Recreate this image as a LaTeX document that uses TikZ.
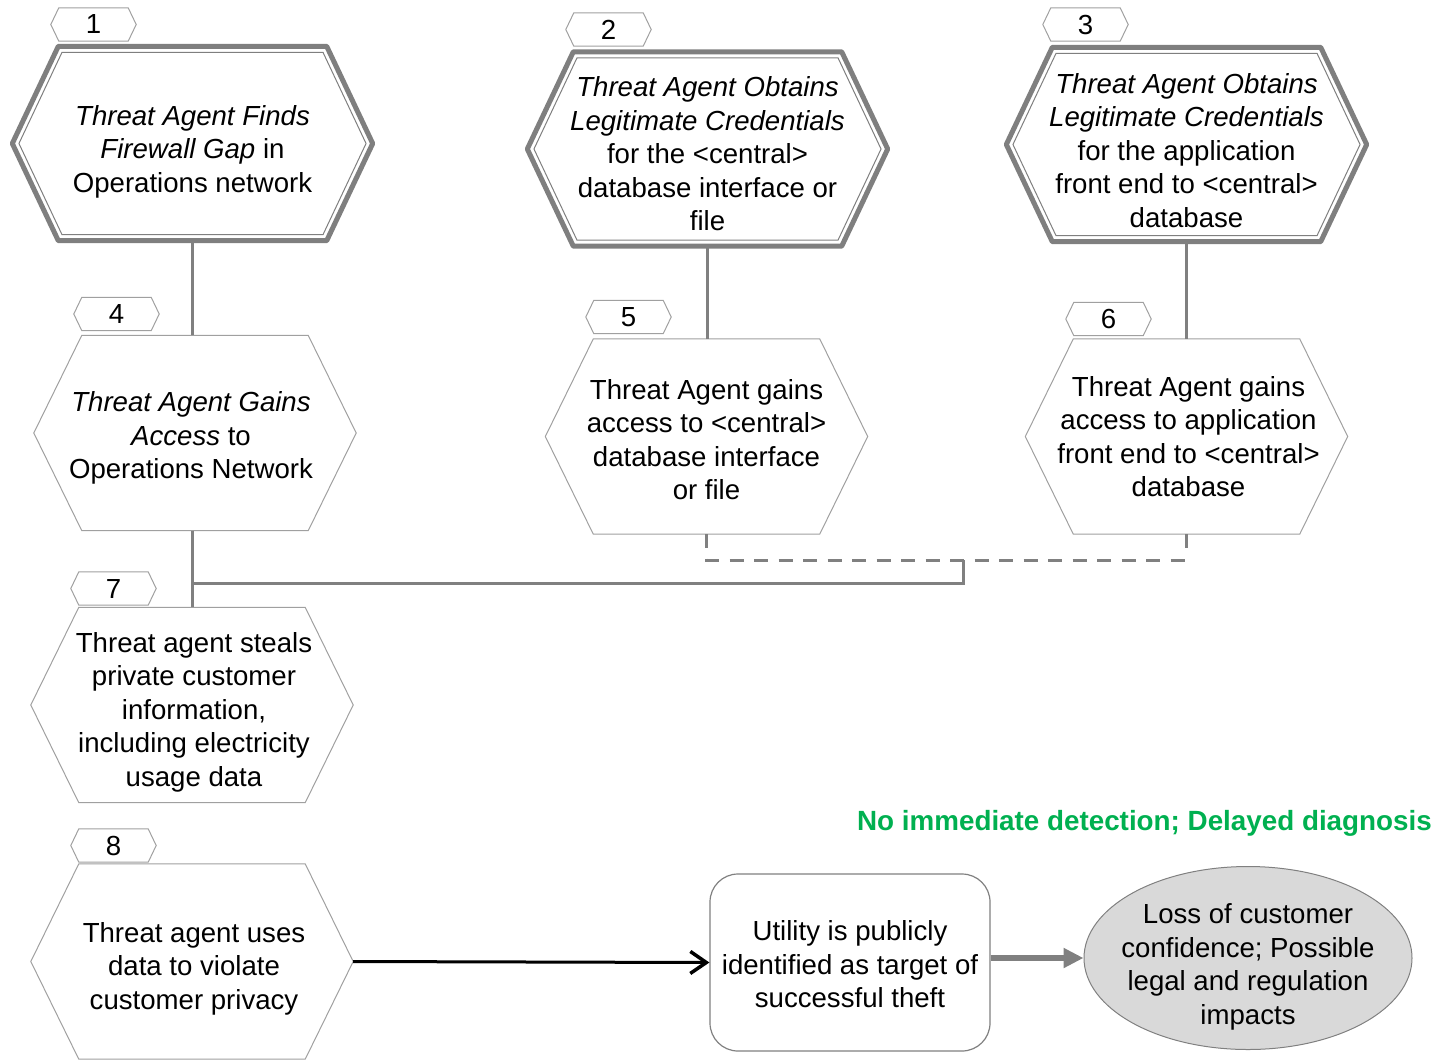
\documentclass[tikz,border=0pt]{standalone}
\usepackage{fontspec}
\setmainfont{Liberation Sans}
\usetikzlibrary{arrows.meta,shapes.geometric,calc}
\definecolor{conngray}{HTML}{808080}
\definecolor{hexgray}{HTML}{7F7F7F}
\definecolor{thingray}{HTML}{A0A0A0}
\definecolor{elfill}{HTML}{D9D9D9}
\definecolor{dgreen}{HTML}{00B050}
\newcommand\hexdraw[4]{%
  \draw[#4] ([xshift={1.11*#3*1pt}]#1.west)
    -- ([xshift={(#2+0.62*#3)*1pt}, yshift={-#3*1pt}]#1.north west)
    -- ([xshift={-(#2+0.62*#3)*1pt}, yshift={-#3*1pt}]#1.north east)
    -- ([xshift={-1.11*#3*1pt}]#1.east)
    -- ([xshift={-(#2+0.62*#3)*1pt}, yshift={#3*1pt}]#1.south east)
    -- ([xshift={(#2+0.62*#3)*1pt}, yshift={#3*1pt}]#1.south west)
    -- cycle;}
\tikzset{
  txt/.style={font=\fontsize{27.6}{33.5}\selectfont, align=center, inner sep=0pt},
  hexnode/.style={inner sep=0pt, minimum width=322pt, minimum height=195pt},
  bignode/.style={inner sep=0pt, minimum width=360pt, minimum height=194pt},
  tagnode/.style={txt, minimum width=85pt, minimum height=33pt},
  conn/.style={draw=conngray, line width=3pt},
  dashconn/.style={conn, dash pattern=on 14pt off 10.5pt},
  outerhex/.style={draw=hexgray, line width=5pt, line join=round},
  innerhex/.style={draw=hexgray, line width=1pt},
  thinhex/.style={draw=thingray, line width=1pt},
  taghex/.style={draw=thingray, line width=1pt},
  blackarrow/.style={draw=black, line width=3pt, -{Straight Barb[length=16pt,width=22pt,line width=3.5pt]}},
  grayarrow/.style={draw=conngray, line width=6pt, -{Triangle[length=20pt,width=19pt]}},
}
\begin{document}
\begin{tikzpicture}[x=1pt,y=-1pt]
\useasboundingbox (0,0) rectangle (1439,1060);
% big double hexagons
\node[bignode] (n1) at (192.5,143.5) {};
\node[bignode] (n2) at (707.5,149) {};
\node[bignode] (n3) at (1186.5,144.5) {};
\foreach \n in {n1,n2,n3}{\hexdraw{\n}{46}{0}{outerhex}\hexdraw{\n}{46}{6}{innerhex}}
\node[txt] (n1t) at ([yshift=-8pt]n1.center) {\textit{Threat Agent Finds}\\\textit{Firewall Gap} in\\Operations network};
\node[txt] (n2t) at ([yshift=-5pt]n2.center) {\textit{Threat Agent Obtains}\\\textit{Legitimate Credentials}\\for the <central>\\database interface or\\file};
\node[txt] (n3t) at ([yshift=-6pt]n3.center) {\textit{Threat Agent Obtains}\\\textit{Legitimate Credentials}\\for the application\\front end to <central>\\database};
% single hexagons
\node[hexnode] (n4) at (195,433) {};
\node[hexnode] (n5) at (706.5,436.5) {};
\node[hexnode] (n6) at (1186.5,436.5) {};
\node[hexnode] (n7) at (192,705) {};
\node[hexnode] (n8) at (192,961.5) {};
\foreach \n in {n4,n5,n6,n7,n8}{\hexdraw{\n}{48}{0}{thinhex}}
\node[txt] (n4t) at ([xshift=-4pt,yshift=-5pt]n4.center) {\textit{Threat Agent Gains}\\\textit{Access} to\\Operations Network};
\node[txt] (n5t) at ([yshift=-3pt]n5.center) {Threat Agent gains\\access to <central>\\database interface\\or file};
\node[txt] (n6t) at ([xshift=2pt]n6.center) {Threat Agent gains\\access to application\\front end to <central>\\database};
\node[txt] (n7t) at ([xshift=2pt,yshift=-7pt]n7.center) {Threat agent steals\\private customer\\information,\\including electricity\\usage data};
\node[txt] (n8t) at ([xshift=2pt,yshift=-7pt]n8.center) {Threat agent uses\\data to violate\\customer privacy};
% tags
\node[tagnode] (t1) at (93.5,24.5) {1};
\node[tagnode] (t2) at (608.5,29.5) {2};
\node[tagnode] (t3) at (1085.5,24.5) {3};
\node[tagnode] (t4) at (116.5,314) {4};
\node[tagnode] (t5) at (628.5,317) {5};
\node[tagnode] (t6) at (1108.5,319) {6};
\node[tagnode] (t7) at (113.5,588.5) {7};
\node[tagnode] (t8) at (113.5,845.5) {8};
\foreach \n in {t1,t2,t3,t4,t5,t6,t7,t8}{\hexdraw{\n}{8}{0}{taghex}}
% outcome nodes
\node[draw=conngray, line width=1.2pt, rounded corners=28pt, minimum width=280pt, minimum height=177pt] (r) at (850,962.5) {};
\node[txt] (rt) at ([yshift=-2pt]r.center) {Utility is publicly\\identified as target of\\successful theft};
\node[ellipse, draw=conngray, line width=1pt, fill=elfill, minimum width=328pt, minimum height=183pt, inner sep=0pt] (e) at (1248,958) {};
\node[txt] (et) at ([yshift=-9pt]e.center) {Loss of customer\\confidence; Possible\\legal and regulation\\impacts};
\node[font=\bfseries\fontsize{27.8}{30}\selectfont, text=dgreen, inner sep=0pt, anchor=east] (g) at (1432,823) {No immediate detection; Delayed diagnosis};
% connectors
\draw[conn] (n1.south) -- (n1.south |- n4.north);
\draw[conn] (n2.south) -- (n2.south |- n5.north);
\draw[conn] (n3.south) -- (n3.south |- n6.north);
\draw[conn] (n7.north |- n4.south) -- (n7.north);
\coordinate (j) at (963,560);
\coordinate (k) at (192,583);
\draw[dashconn] (n5.south) -- (n5.south |- j) -- (n6.south |- j);
\draw[conn] (n6.south) -- ++(0,14);
\draw[conn] (j) -- (j |- k) -- (k);
\draw[blackarrow] (n8.east) -- (r.west);
\draw[grayarrow] (r.east |- e.west) -- (e.west);
\end{tikzpicture}
\end{document}
